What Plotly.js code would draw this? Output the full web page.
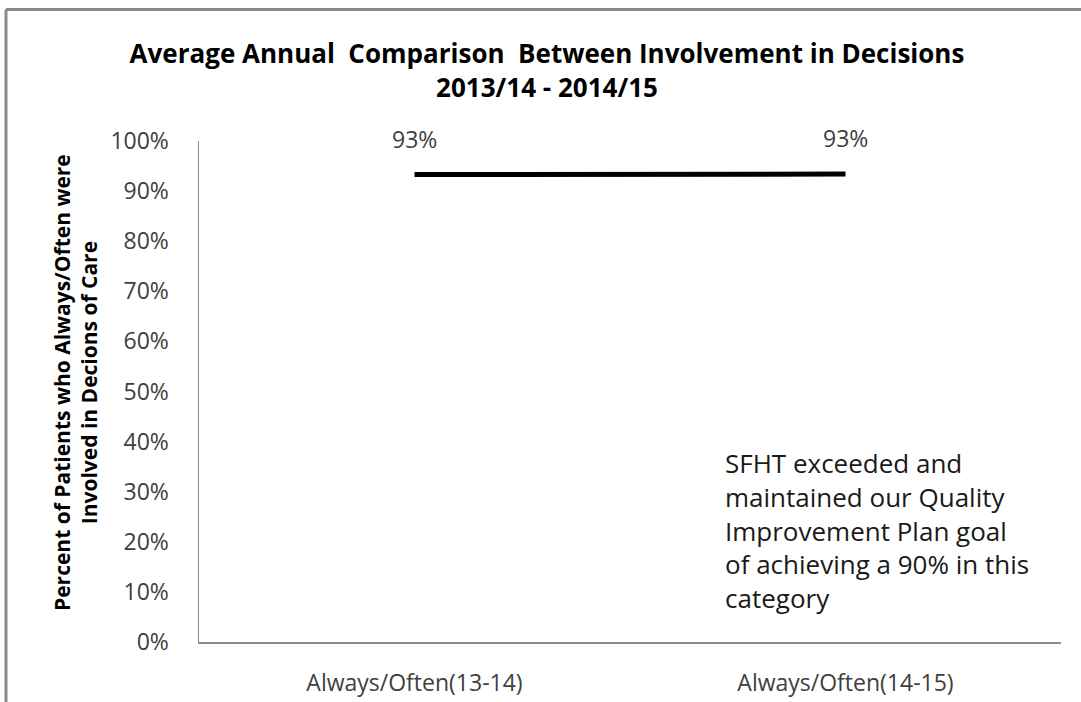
<!DOCTYPE html>
<html><head><meta charset="utf-8">
<script src="https://cdn.plot.ly/plotly-3.0.1.min.js"></script>
<style>html,body{margin:0;padding:0;background:#fff}</style>
</head><body><div id="chart" style="width:1081px;height:702px"></div>
<script>
const categories = ["Always/Often(13-14)", "Always/Often(14-15)"];
const values = [0.933, 0.934];
const valueLabels = ["93%", "93%"];
const yTickVals = [0,0.1,0.2,0.3,0.4,0.5,0.6,0.7,0.8,0.9,1.0];
const yTickText = ["0%","10%","20%","30%","40%","50%","60%","70%","80%","90%","100%"];
const titleText = "Average Annual  Comparison  Between Involvement in Decisions<br>2013/14 - 2014/15";
const yTitleText = "Percent of Patients who Always/Often were<br>Involved in Decions of Care";
const noteText = "SFHT exceeded and<br>maintained our Quality<br>Improvement Plan goal<br>of achieving a 90% in this<br>category";

const FONT = "Open Sans, Noto Sans, sans-serif";

const trace = {
  x: categories, y: values, type: "scatter", mode: "lines",
  line: {color: "#000", width: 5}, hoverinfo: "skip", showlegend: false
};

const annotations = categories.map((c, i) => ({
  x: c, y: values[i], xref: "x", yref: "y", text: valueLabels[i],
  showarrow: false, yanchor: "bottom", yshift: 18,
  font: {family: FONT, size: 23, color: "#404040"}
}));
annotations.push({
  xref: "paper", yref: "paper", x: -0.1427, y: 0.519, textangle: -90,
  text: yTitleText, showarrow: false, xanchor: "center", yanchor: "middle",
  font: {family: FONT, size: 21, color: "#000", weight: "bold"}
});
annotations.push({
  xref: "paper", yref: "paper", x: 0.608, y: 0.398, xanchor: "left", yanchor: "top",
  align: "left", text: noteText, showarrow: false,
  font: {family: FONT, size: 26, color: "#1a1a1a"}
});

const frameColor = "#8a8a8a";
const layout = {
  width: 1081, height: 702,
  margin: {l: 199, r: 20, t: 141, b: 60},
  paper_bgcolor: "#fff", plot_bgcolor: "#fff",
  title: {text: titleText, x: 0.506, xref: "container", y: 0.91, yref: "container",
          xanchor: "center", yanchor: "top",
          font: {family: FONT, size: 26, color: "#000", weight: "bold"}},
  xaxis: {type: "category", range: [-0.5, 1.5], showgrid: false, zeroline: false,
          showline: true, linecolor: "#8c8c8c", linewidth: 1.5, ticks: "",
          ticklabelstandoff: 20,
          tickfont: {family: FONT, size: 23, color: "#404040"}},
  yaxis: {range: [0, 1], tickvals: yTickVals, ticktext: yTickText, showgrid: false,
          zeroline: false, showline: true, linecolor: "#8c8c8c", linewidth: 1.5, ticks: "",
          ticklabelstandoff: 24,
          tickfont: {family: FONT, size: 23, color: "#404040"}},
  annotations: annotations,
  shapes: [
    {type: "line", xref: "paper", yref: "paper", x0: -0.2239, x1: -0.2239, y0: -0.2, y1: 1.2625,
     line: {color: frameColor, width: 3}, layer: "above"},
    {type: "line", xref: "paper", yref: "paper", x0: -0.2239, x1: 1.05, y0: 1.2625, y1: 1.2625,
     line: {color: frameColor, width: 3}, layer: "above"}
  ]
};

Plotly.newPlot("chart", [trace], layout, {displayModeBar: false, staticPlot: true});
</script></body></html>
